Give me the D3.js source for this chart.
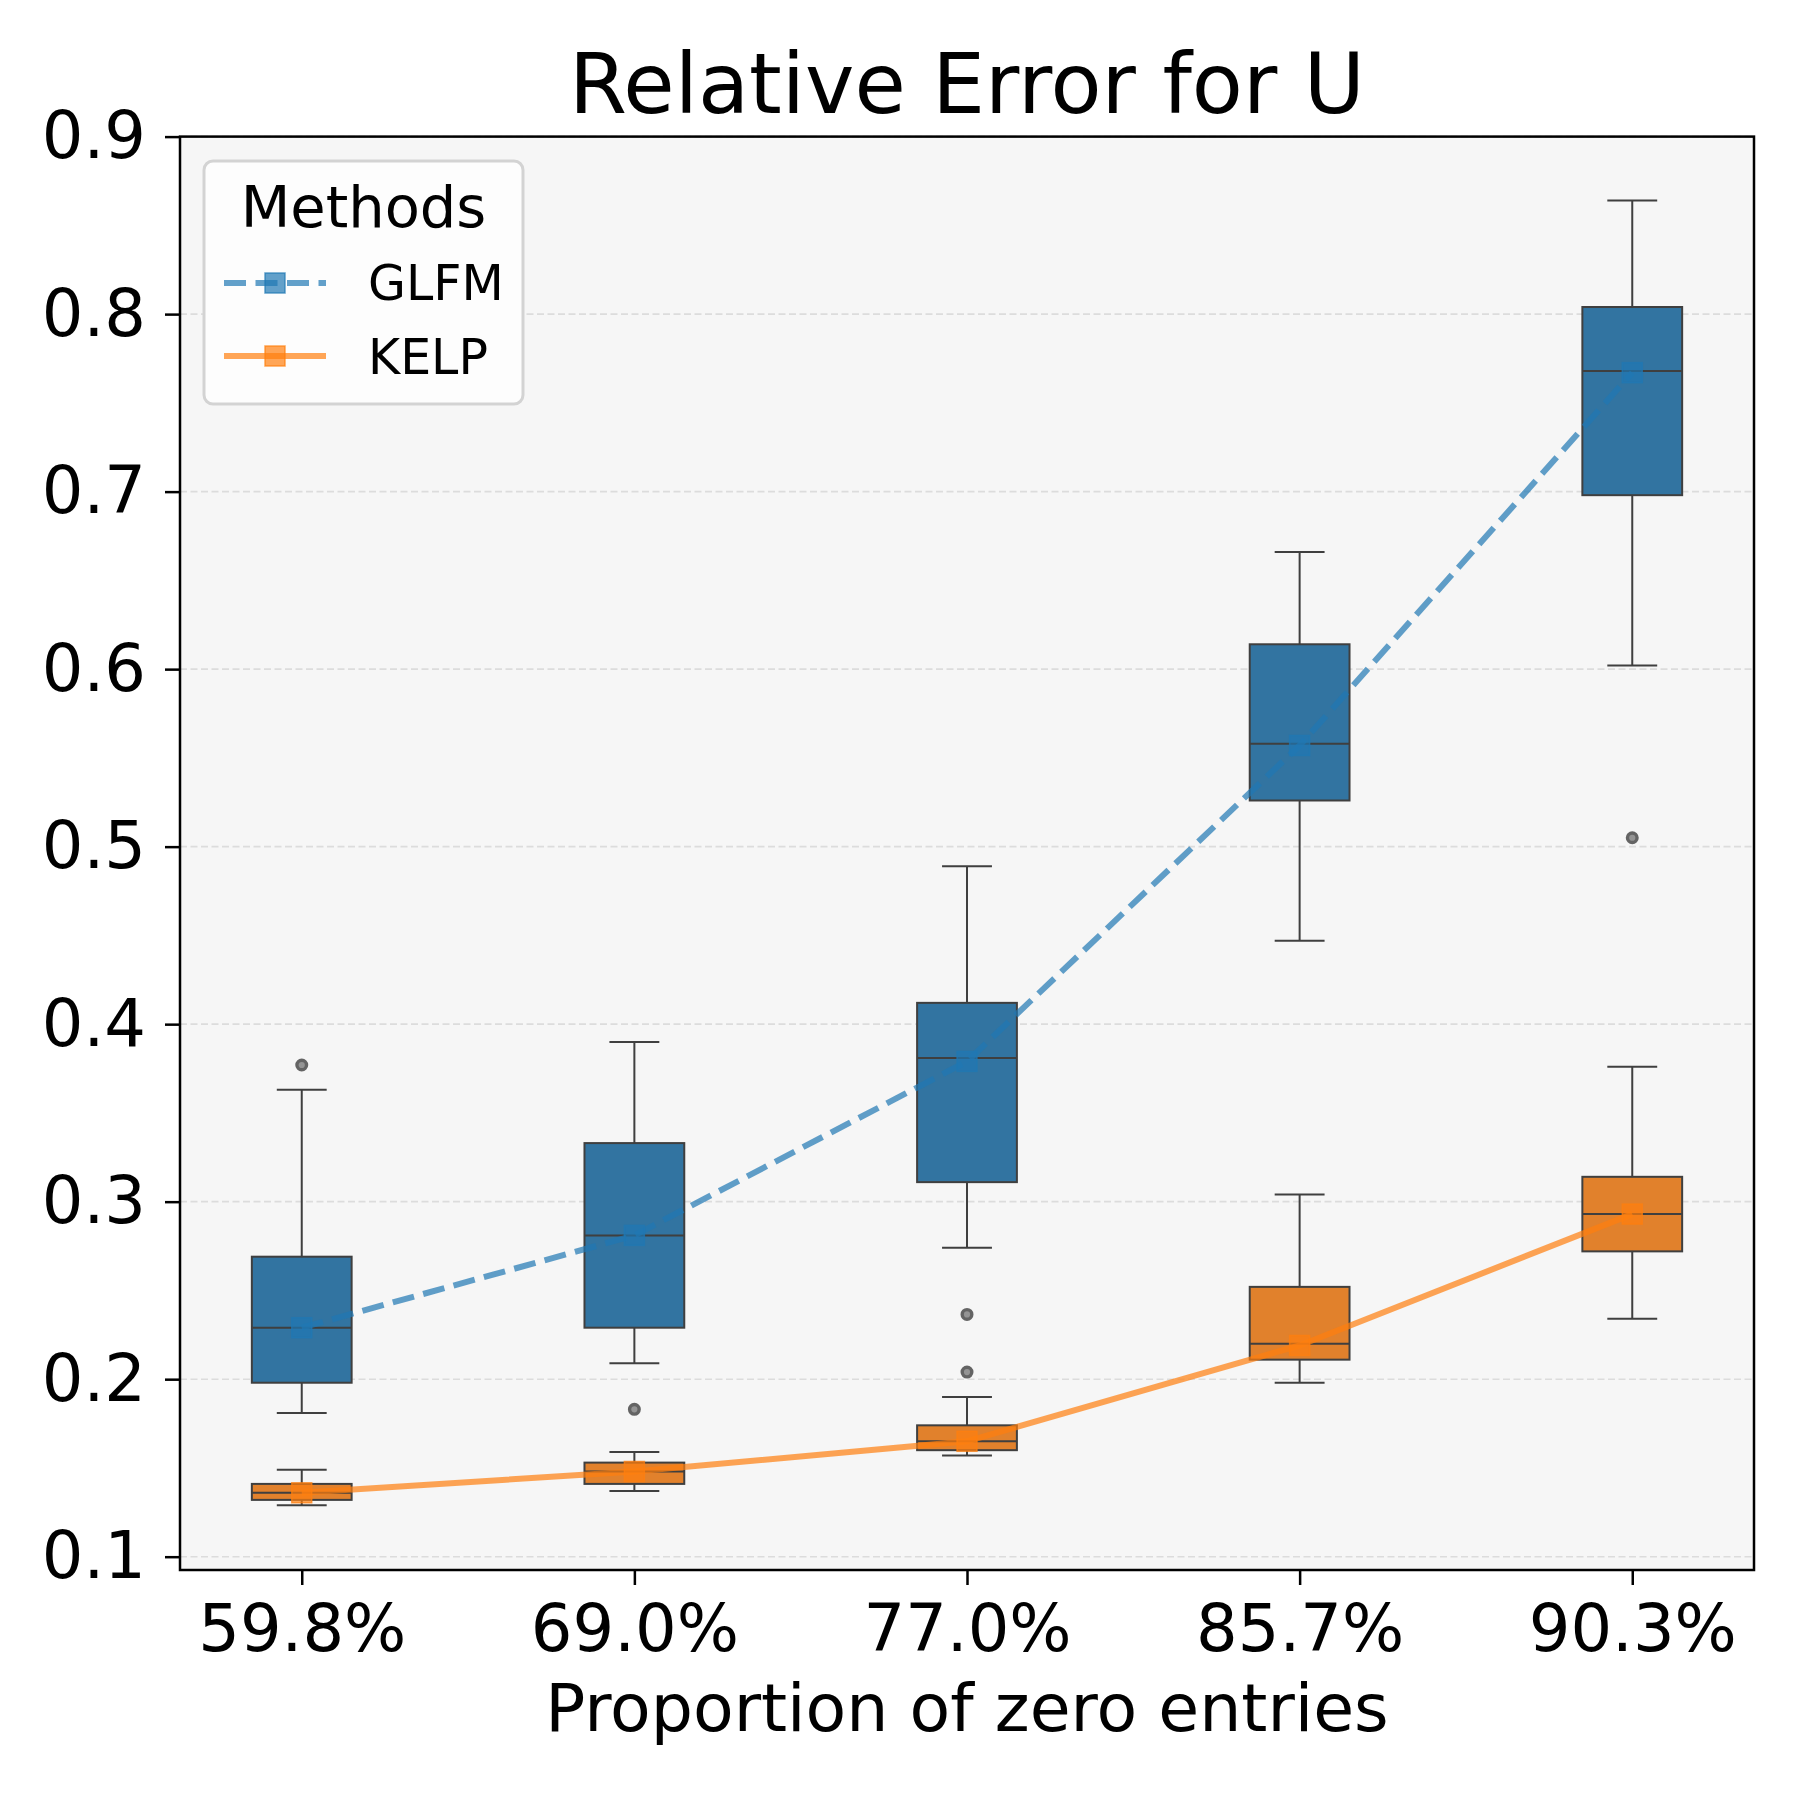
<!DOCTYPE html>
<html>
<head>
<meta charset="utf-8">
<script src="https://cdn.jsdelivr.net/npm/d3@7"></script>
<style>
  body { margin: 0; background: #fff; }
  svg text { font-family: "DejaVu Sans", sans-serif; fill: #000; }
</style>
</head>
<body>
<div id="chart"></div>
<script>
// categories on the x axis
const categories = ["59.8%", "69.0%", "77.0%", "85.7%", "90.3%"];
const yTicks = [0.1, 0.2, 0.3, 0.4, 0.5, 0.6, 0.7, 0.8, 0.9];

// GLFM box stats
const glfmLow  = [0.181, 0.209, 0.274, 0.447, 0.602];
const glfmQ1   = [0.198, 0.229, 0.311, 0.526, 0.698];
const glfmMed  = [0.229, 0.281, 0.381, 0.558, 0.768];
const glfmQ3   = [0.269, 0.333, 0.412, 0.614, 0.804];
const glfmHigh = [0.363, 0.390, 0.489, 0.666, 0.864];
const glfmOut  = [[0.377], [0.183], [], [], [0.505]];
const glfmLine = [0.229, 0.281, 0.379, 0.557, 0.767];

// KELP box stats
const kelpLow  = [0.129, 0.137, 0.157, 0.198, 0.234];
const kelpQ1   = [0.132, 0.141, 0.160, 0.211, 0.272];
const kelpMed  = [0.136, 0.148, 0.165, 0.220, 0.293];
const kelpQ3   = [0.141, 0.153, 0.174, 0.252, 0.314];
const kelpHigh = [0.149, 0.159, 0.190, 0.304, 0.376];
const kelpOut  = [[], [], [0.2365, 0.204], [], []];
const kelpLine = [0.136, 0.148, 0.165, 0.219, 0.293];

(function(){
    const W = 1800, H = 1800;
    const plot = {left: 180, right: 1754, top: 136.6, bottom: 1570};

    const svg = d3.select("#chart").append("svg")
        .attr("width", W).attr("height", H);

    const x = d3.scaleLinear().domain([-0.366, 4.366]).range([plot.left, plot.right]);
    const y = d3.scaleLinear().domain([0.0925, 0.9]).range([plot.bottom, plot.top]);

    // plot background
    svg.append("rect")
        .attr("x", plot.left).attr("y", plot.top)
        .attr("width", plot.right - plot.left).attr("height", plot.bottom - plot.top)
        .attr("fill", "#f6f6f6");

    // grid
    svg.append("g").selectAll("line")
        .data(yTicks).enter().append("line")
        .attr("x1", plot.left).attr("x2", plot.right)
        .attr("y1", d => y(d)).attr("y2", d => y(d))
        .attr("stroke", "#dcdcdc").attr("stroke-width", 1.6)
        .attr("stroke-dasharray", "7,3.5");

    // boxes
    const boxW = 0.3, capW = 0.15;
    const series = [
        {low: glfmLow, q1: glfmQ1, med: glfmMed, q3: glfmQ3, high: glfmHigh, out: glfmOut, fill: "#3274a1"},
        {low: kelpLow, q1: kelpQ1, med: kelpMed, q3: kelpQ3, high: kelpHigh, out: kelpOut, fill: "#e1812c"}
    ];
    const edge = "#3f3f3f";
    const boxes = svg.append("g");
    series.forEach(s => {
        categories.forEach((c, i) => {
            const g = boxes.append("g");
            // whiskers
            g.append("line").attr("x1", x(i)).attr("x2", x(i))
                .attr("y1", y(s.q3[i])).attr("y2", y(s.high[i]))
                .attr("stroke", edge).attr("stroke-width", 2);
            g.append("line").attr("x1", x(i)).attr("x2", x(i))
                .attr("y1", y(s.q1[i])).attr("y2", y(s.low[i]))
                .attr("stroke", edge).attr("stroke-width", 2);
            [s.high[i], s.low[i]].forEach(v => {
                g.append("line")
                    .attr("x1", x(i - capW / 2)).attr("x2", x(i + capW / 2))
                    .attr("y1", y(v)).attr("y2", y(v))
                    .attr("stroke", edge).attr("stroke-width", 2);
            });
            g.append("rect")
                .attr("x", x(i - boxW / 2)).attr("y", y(s.q3[i]))
                .attr("width", x(i + boxW / 2) - x(i - boxW / 2))
                .attr("height", y(s.q1[i]) - y(s.q3[i]))
                .attr("fill", s.fill).attr("stroke", edge).attr("stroke-width", 2);
            g.append("line")
                .attr("x1", x(i - boxW / 2)).attr("x2", x(i + boxW / 2))
                .attr("y1", y(s.med[i])).attr("y2", y(s.med[i]))
                .attr("stroke", edge).attr("stroke-width", 2);
            s.out[i].forEach(v => {
                g.append("circle").attr("cx", x(i)).attr("cy", y(v)).attr("r", 4.8)
                    .attr("fill", "#8a8a8a").attr("stroke", "#555").attr("stroke-width", 3.4)
                    .attr("opacity", 0.9);
            });
        });
    });

    // lines with square markers
    const lineGen = d3.line().x((d, i) => x(i)).y(d => y(d));
    const lines = [
        {vals: glfmLine, color: "#1f77b4", dash: "22,9.5"},
        {vals: kelpLine, color: "#ff7f0e", dash: null}
    ];
    lines.forEach(l => {
        svg.append("path").datum(l.vals)
            .attr("d", lineGen)
            .attr("fill", "none")
            .attr("stroke", l.color).attr("stroke-opacity", 0.7)
            .attr("stroke-width", 6)
            .attr("stroke-dasharray", l.dash);
        svg.append("g").selectAll("rect")
            .data(l.vals).enter().append("rect")
            .attr("x", (d, i) => x(i) - 10).attr("y", d => y(d) - 10)
            .attr("width", 20).attr("height", 20)
            .attr("fill", l.color).attr("fill-opacity", 0.7)
            .attr("stroke", l.color).attr("stroke-opacity", 0.7).attr("stroke-width", 1.5);
    });

    // axes
    const yAxis = svg.append("g")
        .attr("transform", `translate(${plot.left},0)`)
        .call(d3.axisLeft(y).tickValues(yTicks).tickSize(15).tickPadding(19).tickFormat(d3.format(".1f")));
    const xAxis = svg.append("g")
        .attr("transform", `translate(0,${plot.bottom})`)
        .call(d3.axisBottom(x).tickValues(d3.range(categories.length)).tickSize(15).tickPadding(19)
            .tickFormat(i => categories[i]));
    [yAxis, xAxis].forEach(a => {
        a.select(".domain").remove();
        a.selectAll(".tick line").attr("stroke", "#000").attr("stroke-width", 2.5);
        a.selectAll(".tick text").attr("font-size", 65.5).attr("font-family", "DejaVu Sans");
    });

    // spines
    svg.append("rect")
        .attr("x", plot.left).attr("y", plot.top)
        .attr("width", plot.right - plot.left).attr("height", plot.bottom - plot.top)
        .attr("fill", "none").attr("stroke", "#000").attr("stroke-width", 2.5);

    // title and labels
    svg.append("text").attr("x", (plot.left + plot.right) / 2).attr("y", 112.5)
        .attr("text-anchor", "middle").attr("font-size", 83.5)
        .text("Relative Error for U");
    svg.append("text").attr("x", (plot.left + plot.right) / 2).attr("y", 1731)
        .attr("text-anchor", "middle").attr("font-size", 66.5)
        .text("Proportion of zero entries");

    // legend
    const lg = svg.append("g");
    lg.append("rect").attr("x", 204).attr("y", 161).attr("width", 319).attr("height", 243)
        .attr("rx", 9).attr("fill", "#fdfdfd").attr("stroke", "#d3d3d3").attr("stroke-width", 3);
    lg.append("text").attr("x", 363.5).attr("y", 227).attr("text-anchor", "middle")
        .attr("font-size", 57.5).text("Methods");
    const legendItems = [
        {name: "GLFM", color: "#1f77b4", dash: "22,9.5", y: 283, ty: 300},
        {name: "KELP", color: "#ff7f0e", dash: null, y: 356, ty: 374}
    ];
    legendItems.forEach(d => {
        lg.append("line").attr("x1", 224).attr("x2", 326).attr("y1", d.y).attr("y2", d.y)
            .attr("stroke", d.color).attr("stroke-opacity", 0.7).attr("stroke-width", 6)
            .attr("stroke-dasharray", d.dash);
        lg.append("rect").attr("x", 265).attr("y", d.y - 10).attr("width", 20).attr("height", 20)
            .attr("fill", d.color).attr("fill-opacity", 0.7)
            .attr("stroke", d.color).attr("stroke-opacity", 0.7).attr("stroke-width", 1.5);
        lg.append("text").attr("x", 368).attr("y", d.ty).attr("font-size", 49).text(d.name);
    });
})();
</script>
</body>
</html>
